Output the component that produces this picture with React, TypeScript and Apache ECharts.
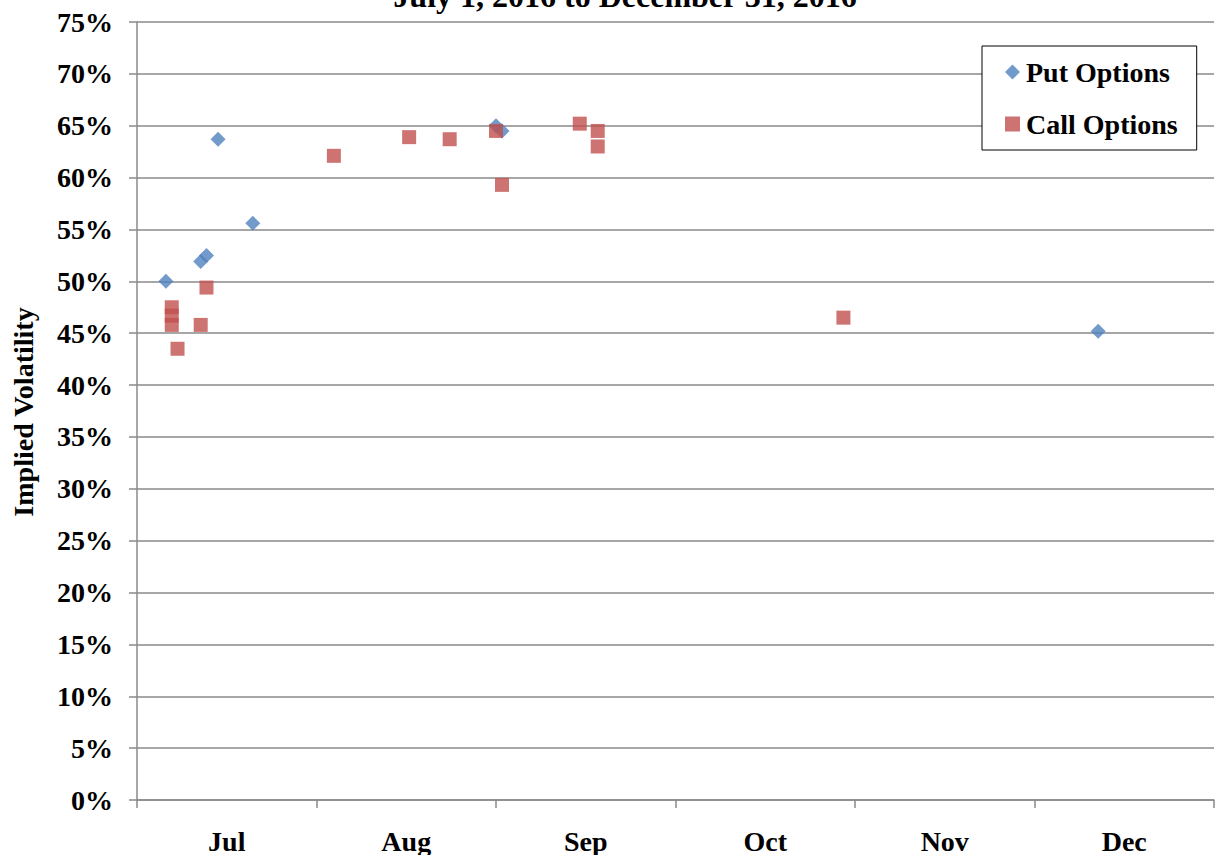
import React, { useEffect, useRef } from "react";
import * as echarts from "echarts";

const months = ["Jul", "Aug", "Sep", "Oct", "Nov", "Dec"];
const monthDays = [31, 31, 30, 31, 30, 31];

const putDates = ["2016-07-06", "2016-07-12", "2016-07-13", "2016-07-15", "2016-07-21", "2016-09-01", "2016-09-02", "2016-12-12"];
const putVols = [50.0, 51.9, 52.5, 63.7, 55.6, 65.0, 64.5, 45.2];

const callDates = ["2016-07-07", "2016-07-07", "2016-07-07", "2016-07-08", "2016-07-12", "2016-07-13", "2016-08-04", "2016-08-17", "2016-08-24", "2016-09-01", "2016-09-02", "2016-09-15", "2016-09-18", "2016-09-18", "2016-10-30"];
const callVols = [47.5, 46.7, 45.8, 43.5, 45.8, 49.4, 62.1, 63.9, 63.7, 64.5, 59.3, 65.2, 64.5, 63.0, 46.5];

const yMin = 0;
const yMax = 75;
const yStep = 5;

const titleLine = "July 1, 2016 to December 31, 2016";
const yName = "Implied Volatility";
const putName = "Put Options";
const callName = "Call Options";

const FONT = "'Liberation Serif', 'Times New Roman', serif";
const FS = 28;

function dateToPos(d: string): number {
  const [, m, day] = d.split("-").map(Number);
  const idx = m - 7;
  return idx + (day - 1) / monthDays[idx];
}

export default function App() {
  const ref = useRef<HTMLDivElement>(null);
  useEffect(() => {
    if (!ref.current) return;
    const chart = echarts.init(ref.current, undefined, { renderer: "svg" });
    const gridColor = "#8a8a8a";
    chart.setOption({
      animation: false,
      backgroundColor: "#ffffff",
      grid: { left: 137, right: 5, top: 22, bottom: 55, containLabel: false },
      legend: {
        orient: "vertical",
        left: 982,
        top: 46,
        padding: [11, 19, 11, 23],
        itemGap: 22,
        itemWidth: 15,
        itemHeight: 15,
        backgroundColor: "#ffffff",
        borderColor: "#000000",
        borderWidth: 1,
        borderRadius: 0,
        textStyle: { fontFamily: FONT, fontWeight: "bold", fontSize: FS, color: "#000", lineHeight: 30, padding: [0, 0, 0, 1] },
        data: [
          { name: putName, icon: "diamond" },
          { name: callName, icon: "rect" },
        ],
      },
      xAxis: [
        {
          type: "value",
          min: 0,
          max: 6,
          interval: 1,
          axisLine: { show: true, lineStyle: { color: gridColor, width: 1.5 } },
          axisTick: { show: true, inside: false, length: 8, lineStyle: { color: gridColor, width: 1.5 } },
          axisLabel: { show: false },
          splitLine: { show: false },
        },
        {
          type: "value",
          position: "bottom",
          min: 0,
          max: 12,
          interval: 1,
          axisLine: { show: false },
          axisTick: { show: false },
          splitLine: { show: false },
          axisLabel: {
            show: true,
            margin: 27,
            fontFamily: FONT,
            fontWeight: "bold",
            fontSize: FS,
            color: "#000",
            formatter: (v: number) => (v % 2 === 1 ? months[(v - 1) / 2] : ""),
          },
        },
      ],
      yAxis: {
        type: "value",
        min: yMin,
        max: yMax,
        interval: yStep,
        axisLine: { show: true, lineStyle: { color: gridColor, width: 1.5 } },
        axisTick: { show: true, inside: false, length: 8, lineStyle: { color: gridColor, width: 1.5 } },
        splitLine: { show: true, lineStyle: { color: gridColor, width: 1.5 } },
        axisLabel: {
          margin: 24,
          fontFamily: FONT,
          fontWeight: "bold",
          fontSize: FS,
          color: "#000",
          formatter: (v: number) => v + "%",
        },
      },
      graphic: [
        {
          type: "text",
          x: 625,
          y: 12,
          style: {
            text: titleLine,
            align: "center",
            verticalAlign: "bottom",
            fontFamily: FONT,
            fontWeight: "bold",
            fontSize: 32,
            fill: "#000",
          },
        },
        {
          type: "text",
          x: 23,
          y: 412,
          rotation: Math.PI / 2,
          style: {
            text: yName,
            align: "center",
            verticalAlign: "middle",
            fontFamily: FONT,
            fontWeight: "bold",
            fontSize: FS,
            fill: "#000",
          },
        },
      ],
      series: [
        {
          name: putName,
          type: "scatter",
          xAxisIndex: 0,
          symbol: "diamond",
          symbolSize: 15,
          itemStyle: { color: "#4F81BD" },
          data: putDates.map((d, i) => [dateToPos(d), putVols[i]]),
        },
        {
          name: callName,
          type: "scatter",
          xAxisIndex: 0,
          symbol: "rect",
          symbolSize: 14,
          itemStyle: { color: "#C0504D" },
          data: callDates.map((d, i) => [dateToPos(d), callVols[i]]),
        },
      ],
    });
    return () => chart.dispose();
  }, []);
  return <div ref={ref} style={{ width: 1219, height: 855, position: "absolute", left: 0, top: 0 }} />;
}
